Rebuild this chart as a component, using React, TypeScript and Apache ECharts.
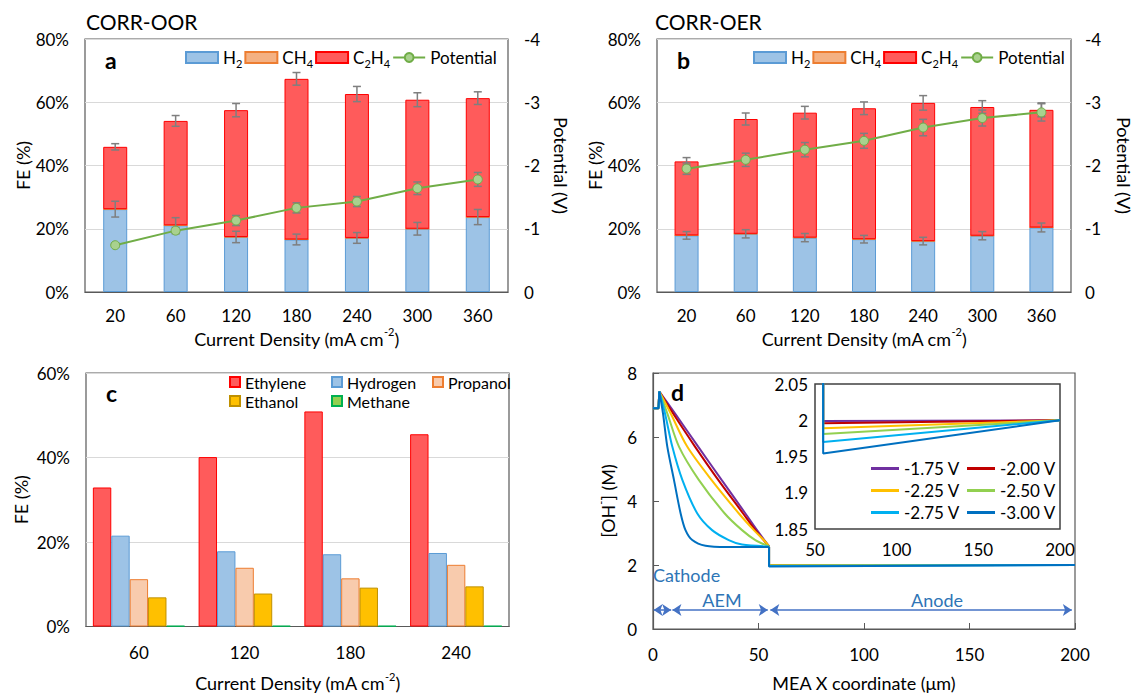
import React, { useEffect, useRef } from 'react';
import * as echarts from 'echarts';

// ---------- Data ----------
const catsAB = ['20', '60', '120', '180', '240', '300', '360'];

// Panel a (CORR-OOR)
const aH2 = [26.2, 21.1, 17.4, 16.6, 17.1, 20.0, 23.7];
const aCH4 = [0, 0, 0, 0, 0, 0, 0];
const aC2H4 = [19.7, 33.0, 40.1, 50.8, 45.5, 40.8, 37.6];
const aH2Err = [2.5, 2.4, 1.8, 1.7, 1.7, 2.0, 2.4];
const aTotErr = [1.0, 1.7, 2.1, 2.0, 2.4, 2.2, 2.0];
const aPot = [-0.74, -0.97, -1.13, -1.33, -1.43, -1.64, -1.78];
const aPotErr = [0.03, 0.05, 0.08, 0.08, 0.08, 0.1, 0.11];

// Panel b (CORR-OER)
const bH2 = [17.9, 18.4, 17.2, 16.7, 16.1, 17.8, 20.4];
const bCH4 = [0, 0, 0, 0, 0, 0, 0];
const bC2H4 = [23.4, 36.3, 39.5, 41.4, 43.7, 40.7, 37.2];
const bH2Err = [1.2, 1.3, 1.3, 1.2, 1.2, 1.3, 1.4];
const bTotErr = [1.2, 1.9, 2.0, 2.0, 2.3, 2.0, 2.2];
const bPot = [-1.95, -2.09, -2.25, -2.39, -2.6, -2.75, -2.84];
const bPotErr = [0.09, 0.105, 0.113, 0.118, 0.13, 0.126, 0.137];

// Panel c
const catsC = ['60', '120', '180', '240'];
const cEthylene = [32.9, 40.1, 50.9, 45.5];
const cHydrogen = [21.5, 17.8, 17.1, 17.4];
const cPropanol = [11.2, 13.9, 11.4, 14.6];
const cEthanol = [6.9, 7.8, 9.2, 9.5];
const cMethane = [0.15, 0.15, 0.15, 0.15];

// Panel d
const dNames = ['-1.75 V', '-2.00 V', '-2.25 V', '-2.50 V', '-2.75 V', '-3.00 V'];
const dColors = ['#7030A0', '#C00000', '#FFC000', '#92D050', '#00B0F0', '#0070C0'];
const dCathode = [[0, 6.9], [2.6, 6.9], [3, 7.42]];
const dAEM175 = [[3, 7.42], [10.4, 6.74], [21.4, 5.7], [32.5, 4.66], [43.8, 3.61], [49.3, 3.09], [55, 2.58]];
const dAEM200 = [[3, 7.42], [9.46, 6.74], [19.9, 5.7], [30.9, 4.66], [42.7, 3.61], [48.5, 3.09], [55, 2.58]];
const dAEM225 = [[3, 7.42], [8.35, 6.74], [16.2, 5.7], [27.7, 4.66], [40.7, 3.61], [47.8, 3.09], [52.5, 2.78], [55, 2.58]];
const dAEM250 = [[3, 7.42], [6.78, 6.74], [12.3, 5.7], [21.7, 4.66], [34.0, 3.61], [42.2, 3.09], [48.5, 2.78], [55, 2.58]];
const dAEM275 = [[3, 7.42], [5.67, 6.74], [9.14, 5.7], [13.9, 4.66], [21.0, 3.61], [28.0, 3.09], [35.9, 2.78], [42.2, 2.64], [55, 2.58]];
const dAEM300 = [[3, 7.42], [4.73, 6.74], [6.78, 5.7], [9.93, 4.66], [13.1, 3.61], [15.4, 3.09], [18.6, 2.78], [24.9, 2.6], [35, 2.56], [55, 2.56]];
const dAEM = [dAEM175, dAEM200, dAEM225, dAEM250, dAEM275, dAEM300];
const dMembraneEnd = [2.58, 2.58, 2.58, 2.58, 2.58, 2.56];
const dAnodeStart = [1.999, 1.996, 1.989, 1.981, 1.97, 1.954];
const dAnodeEnd = [2.0, 2.0, 2.0, 2.0, 2.0, 2.0];
const dAnodeX = [55, 200];

// ---------- Styling ----------
const F = 'Lato, "Noto Sans", sans-serif';
const BORDER = '#595959';
const GRIDLINE = '#D9D9D9';
const ERR = '#7F7F7F';

const errRender = (params: any, api: any) => {
  const x = api.value(0);
  const lo = api.coord([x, api.value(1)]);
  const hi = api.coord([x, api.value(2)]);
  const w = 4;
  const style = { stroke: ERR, lineWidth: 1.5 };
  return {
    type: 'group',
    children: [
      { type: 'line', shape: { x1: lo[0], y1: lo[1], x2: hi[0], y2: hi[1] }, style },
      { type: 'line', shape: { x1: lo[0] - w, y1: lo[1], x2: lo[0] + w, y2: lo[1] }, style },
      { type: 'line', shape: { x1: hi[0] - w, y1: hi[1], x2: hi[0] + w, y2: hi[1] }, style },
    ],
  };
};

const errSeries = (xi: number, yi: number, centers: number[], errs: number[]) => ({
  type: 'custom',
  xAxisIndex: xi,
  yAxisIndex: yi,
  renderItem: errRender,
  silent: true,
  z: 5,
  encode: { x: 0, y: [1, 2] },
  data: centers.map((c, i) => [i, c - errs[i], c + errs[i]]),
});

const richNames: Record<string, string> = {
  H2: '{n|H}{s|2}',
  CH4: '{n|CH}{s|4}',
  C2H4: '{n|C}{s|2}{n|H}{s|4}',
  Potential: '{n|Potential}',
};

const legendAB = (left: number) => ({
  left,
  top: 49,
  padding: 0,
  itemWidth: 32,
  itemHeight: 11,
  itemGap: 2,
  selectedMode: false,
  data: [
    { name: 'H2', icon: 'rect' },
    { name: 'CH4', icon: 'rect' },
    { name: 'C2H4', icon: 'rect' },
    'Potential',
  ],
  formatter: (n: string) => richNames[n] || n,
  textStyle: {
    fontFamily: F,
    fontSize: 17,
    color: '#000',
    rich: {
      n: { fontFamily: F, fontSize: 17, color: '#000' },
      s: { fontFamily: F, fontSize: 11, color: '#000', padding: [12, 0, 0, 0] },
    },
  },
});

const axisNameRich = {
  fontFamily: F,
  fontSize: 18,
  color: '#000',
  rich: {
    n: { fontFamily: F, fontSize: 18, color: '#000' },
    sup: { fontFamily: F, fontSize: 11, color: '#000', padding: [0, 0, 14, 0] },
  },
};

const tickLabel = (margin: number, extra: any = {}) => ({
  fontFamily: F,
  fontSize: 17,
  color: '#000',
  margin,
  ...extra,
});

const CD_NAME = '{n|Current Density (mA cm}{sup|-2}{n|)}';

const barsAB = (xi: number, yi: number, h2: number[], ch4: number[], c2h4: number[], stack: string) => [
  {
    name: 'H2', type: 'bar', xAxisIndex: xi, yAxisIndex: yi, stack, barWidth: 24, data: h2,
    itemStyle: { color: '#9DC3E6', borderColor: '#5B9BD5', borderWidth: 1 },
  },
  {
    name: 'CH4', type: 'bar', xAxisIndex: xi, yAxisIndex: yi, stack, barWidth: 24, data: ch4,
    itemStyle: { color: '#F4B183', borderColor: '#ED7D31', borderWidth: 1 },
  },
  {
    name: 'C2H4', type: 'bar', xAxisIndex: xi, yAxisIndex: yi, stack, barWidth: 24, data: c2h4,
    itemStyle: { color: '#FF5B5B', borderColor: '#FF0000', borderWidth: 1 },
  },
];

const potSeries = (xi: number, yi: number, data: number[]) => ({
  name: 'Potential', type: 'line', xAxisIndex: xi, yAxisIndex: yi, data,
  symbol: 'circle', symbolSize: 9, z: 6,
  lineStyle: { color: '#70AD47', width: 2 },
  itemStyle: { color: '#A9D18E', borderColor: '#70AD47', borderWidth: 1 },
});

function buildOption() {
  const grids = [
    { left: 85, top: 39, width: 423, height: 253 },
    { left: 657, top: 39, width: 414, height: 253 },
    { left: 86, top: 373, width: 423, height: 256 },
    { left: 653, top: 373, width: 422, height: 256 },
    { left: 815, top: 384, width: 245, height: 145, backgroundColor: '#fff', borderColor: '#404040', borderWidth: 1.5 },
  ].map((g: any) => ({ show: true, borderColor: BORDER, borderWidth: 1.2, ...g }));

  const catX = (gi: number, data: string[], nameGap: number, margin: number) => ({
    type: 'category', gridIndex: gi, data,
    axisTick: { show: false },
    axisLine: { show: true, lineStyle: { color: BORDER, width: 1.2 } },
    axisLabel: tickLabel(margin),
    name: CD_NAME, nameLocation: 'middle', nameGap, nameTextStyle: axisNameRich,
  });

  const feY = (gi: number, max: number, nameGap: number) => ({
    type: 'value', gridIndex: gi, min: 0, max, interval: 20,
    axisLine: { show: false }, axisTick: { show: false },
    axisLabel: tickLabel(16, { formatter: '{value}%' }),
    splitLine: { show: true, lineStyle: { color: GRIDLINE, width: 1.2 } },
    name: 'FE (%)', nameLocation: 'middle', nameGap, nameRotate: 90, nameTextStyle: axisNameRich,
  });

  const potY = (gi: number, nameGap: number, margin: number) => ({
    type: 'value', gridIndex: gi, position: 'right', min: -4, max: 0, interval: 1, inverse: true,
    axisLine: { show: false }, axisTick: { show: false }, splitLine: { show: false },
    axisLabel: tickLabel(margin),
    name: 'Potential (V)', nameLocation: 'middle', nameGap, nameRotate: -90, nameTextStyle: axisNameRich,
  });

  const xAxis = [
    catX(0, catsAB, 34, 15),
    catX(1, catsAB, 34, 15),
    catX(2, catsC, 44, 17),
    {
      type: 'value', gridIndex: 3, min: 0, max: 200, interval: 50,
      axisLine: { show: true, lineStyle: { color: BORDER, width: 1.2 } },
      axisTick: { show: true, inside: true, length: 6, lineStyle: { color: BORDER } },
      splitLine: { show: false },
      axisLabel: tickLabel(17),
      name: '{n|MEA X coordinate (μm)}', nameLocation: 'middle', nameGap: 45, nameTextStyle: axisNameRich,
    },
    {
      type: 'value', gridIndex: 4, min: 50, max: 200, interval: 50,
      axisLine: { show: false }, axisTick: { show: false }, splitLine: { show: false },
      axisLabel: tickLabel(12),
    },
  ];

  const yAxis = [
    feY(0, 80, 52),
    potY(0, 44, 16),
    feY(1, 80, 50),
    potY(1, 44, 14),
    feY(2, 60, 56),
    {
      type: 'value', gridIndex: 3, min: 0, max: 8, interval: 2,
      axisLine: { show: true, lineStyle: { color: BORDER, width: 1.2 } },
      axisTick: { show: true, inside: true, length: 6, lineStyle: { color: BORDER } },
      splitLine: { show: false },
      axisLabel: tickLabel(16),
      name: '{n|[OH}{sup|-}{n|] (M)}', nameLocation: 'middle', nameGap: 33, nameRotate: 90, nameTextStyle: axisNameRich,
    },
    {
      type: 'value', gridIndex: 4, min: 1.85, max: 2.05, interval: 0.05,
      axisLine: { show: false }, axisTick: { show: false }, splitLine: { show: false },
      axisLabel: tickLabel(7, { formatter: (v: number) => String(+v.toFixed(2)) }),
    },
  ];

  const aTot = aH2.map((v, i) => v + aCH4[i] + aC2H4[i]);
  const bTot = bH2.map((v, i) => v + bCH4[i] + bC2H4[i]);

  const series: any[] = [
    ...barsAB(0, 0, aH2, aCH4, aC2H4, 'a'),
    errSeries(0, 0, aH2, aH2Err),
    errSeries(0, 0, aTot, aTotErr),
    errSeries(0, 1, aPot, aPotErr),
    potSeries(0, 1, aPot),
    ...barsAB(1, 2, bH2, bCH4, bC2H4, 'b'),
    errSeries(1, 2, bH2, bH2Err),
    errSeries(1, 2, bTot, bTotErr),
    errSeries(1, 3, bPot, bPotErr),
    potSeries(1, 3, bPot),
  ];

  const cDefs = [
    ['Ethylene', cEthylene, '#FF5B5B', '#FF0000'],
    ['Hydrogen', cHydrogen, '#9DC3E6', '#5B9BD5'],
    ['Propanol', cPropanol, '#F8CBAD', '#ED7D31'],
    ['Ethanol', cEthanol, '#FFC000', '#BF9000'],
    ['Methane', cMethane, '#92D050', '#00B050'],
  ] as const;
  cDefs.forEach(([name, data, fill, border]) => {
    series.push({
      name, type: 'bar', xAxisIndex: 2, yAxisIndex: 4, data,
      barGap: '0%', barCategoryGap: '13%',
      itemStyle: { color: fill, borderColor: border, borderWidth: 1 },
    });
  });

  dNames.forEach((name, i) => {
    const lineStyle = { color: dColors[i], width: 2 };
    const common = { name, type: 'line', symbol: 'none', lineStyle, itemStyle: { color: dColors[i] }, silent: true };
    const anode = [[dAnodeX[0], dMembraneEnd[i]], [dAnodeX[0], dAnodeStart[i]], [dAnodeX[1], dAnodeEnd[i]]];
    const cath: any = { ...common, xAxisIndex: 3, yAxisIndex: 5, data: dCathode };
    if (i === 0) {
      cath.markLine = {
        silent: true,
        symbol: ['arrow', 'arrow'],
        symbolSize: [9, 9],
        label: { show: false },
        lineStyle: { color: '#4472C4', width: 1.5, type: 'solid' },
        data: [
          [{ coord: [0.3, 0.59] }, { coord: [8.6, 0.59] }],
          [{ coord: [9.2, 0.59] }, { coord: [54.4, 0.59] }],
          [{ coord: [55.6, 0.59] }, { coord: [198.5, 0.59] }],
        ],
      };
    }
    series.push(cath);
    series.push({ ...common, xAxisIndex: 3, yAxisIndex: 5, data: dAEM[i], smooth: 0.3 });
    series.push({ ...common, xAxisIndex: 3, yAxisIndex: 5, data: anode });
    series.push({ ...common, xAxisIndex: 4, yAxisIndex: 6, data: anode, clip: true, z: 3 });
  });

  const smallLegend = (name: string, left: number, top: number, fontSize: number, w: number, h: number) => ({
    left, top, padding: 0, itemWidth: w, itemHeight: h, selectedMode: false,
    data: [{ name, icon: 'rect' }],
    textStyle: { fontFamily: F, fontSize, color: '#000' },
  });

  const legend = [
    legendAB(185),
    legendAB(753),
    smallLegend('Ethylene', 229, 374, 16, 10, 10),
    smallLegend('Hydrogen', 331, 374, 16, 10, 10),
    smallLegend('Propanol', 432, 374, 16, 10, 10),
    smallLegend('Ethanol', 229, 393, 16, 10, 10),
    smallLegend('Methane', 331, 393, 16, 10, 10),
    smallLegend('-1.75 V', 871, 460, 17, 28, 3),
    smallLegend('-2.00 V', 967, 460, 17, 28, 3),
    smallLegend('-2.25 V', 871, 482, 17, 28, 3),
    smallLegend('-2.50 V', 967, 482, 17, 28, 3),
    smallLegend('-2.75 V', 871, 504, 17, 28, 3),
    smallLegend('-3.00 V', 967, 504, 17, 28, 3),
  ];

  const txt = (text: string, x: number, y: number, font: string, fill = '#000', align = 'left') => ({
    type: 'text', x, y, silent: true, z: 10,
    style: { text, font, fill, align, verticalAlign: 'middle', textAlign: align, textVerticalAlign: 'middle' },
  });

  const graphic = [
    txt('CORR-OOR', 86, 21, `21px ${F}`),
    txt('CORR-OER', 655, 21, `21px ${F}`),
    txt('a', 105, 60, `bold 23px ${F}`),
    txt('b', 677, 60, `bold 23px ${F}`),
    txt('c', 106, 393, `bold 23px ${F}`),
    txt('d', 671, 392, `bold 23px ${F}`),
    txt('Cathode', 653, 575, `18px ${F}`, '#2E75B6'),
    txt('AEM', 722, 600, `18px ${F}`, '#2E75B6', 'center'),
    txt('Anode', 937, 600, `18px ${F}`, '#2E75B6', 'center'),
  ];

  return {
    animation: false,
    backgroundColor: '#fff',
    textStyle: { fontFamily: F },
    grid: grids,
    xAxis,
    yAxis,
    legend,
    series,
    graphic,
  };
}

export default function App() {
  const ref = useRef<HTMLDivElement>(null);
  useEffect(() => {
    if (!ref.current) return;
    const chart = echarts.init(ref.current, null, { renderer: 'svg' });
    chart.setOption(buildOption() as any);
    return () => chart.dispose();
  }, []);
  return (
    <div
      ref={ref}
      style={{ position: 'fixed', left: 0, top: 0, width: 1134, height: 693, background: '#fff' }}
    />
  );
}
